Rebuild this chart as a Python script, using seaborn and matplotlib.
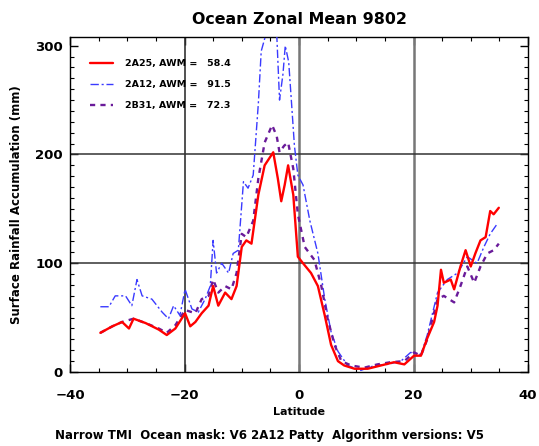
import matplotlib
matplotlib.use("Agg")
import matplotlib.pyplot as plt
import seaborn as sns
from matplotlib.ticker import MultipleLocator

sns.set_theme(style="white")
plt.rcParams['font.family'] = ['DejaVu Sans']
plt.rcParams['font.weight'] = 'bold'
plt.rcParams['text.color'] = 'black'
plt.rcParams['axes.labelcolor'] = 'black'
plt.rcParams['xtick.color'] = 'black'
plt.rcParams['ytick.color'] = 'black'

title = "Ocean Zonal Mean 9802"
xlabel = "Latitude"
ylabel = "Surface Rainfall Accumulation (mm)"
footer = "Narrow TMI  Ocean mask: V6 2A12 Patty  Algorithm versions: V5"
labels = ["2A25, AWM =   58.4", "2A12, AWM =   91.5", "2B31, AWM =   72.3"]

lat_2a25 = [-34.7, -32.6, -30.9, -29.7, -28.9, -26.8, -24.5, -23.1, -21.6, -19.9, -19.0, -18.1, -17.0,
            -15.8, -15.0, -14.1, -12.9, -11.8, -10.9, -10.0, -9.2, -8.3, -7.1, -6.0, -4.5, -3.7, -3.1,
            -2.5, -1.9, -1.0, -0.2, 0.7, 2.1, 3.3, 4.5, 5.6, 6.8, 7.9, 9.7, 12.0, 14.3, 16.6, 18.4,
            20.1, 21.3, 22.4, 23.6, 24.2, 24.8, 25.3, 26.5, 27.1, 28.2, 29.1, 30.0, 30.8, 31.7, 32.6,
            33.4, 34.0, 34.9]
val_2a25 = [36, 42, 46, 40, 49, 45, 39, 34, 40, 54, 42, 46, 54,
            61, 79, 61, 73, 67, 79, 115, 121, 118, 163, 190, 202, 178, 157,
            172, 190, 163, 106, 100, 91, 79, 52, 25, 10, 6, 3, 3, 6, 9, 7,
            15, 15, 31, 46, 61, 94, 82, 85, 76, 97, 112, 97, 109, 121, 124,
            148, 145, 151]

lat_2a12 = [-34.7, -33.2, -32.1, -30.3, -29.2, -28.3, -27.4, -25.7, -23.9, -22.8, -21.9, -20.8, -19.9,
            -18.7, -17.6, -16.4, -15.5, -15.0, -14.4, -13.5, -12.3, -11.5, -10.6, -9.7, -8.9, -8.0,
            -7.1, -6.6, -5.7, -4.8, -3.9, -3.4, -2.8, -2.4, -1.8, -1.3, -0.8, -0.2, 0.7, 1.9, 3.3,
            4.5, 5.6, 6.8, 8.5, 10.8, 13.2, 15.5, 17.8, 19.5, 21.3, 22.4, 24.2, 25.9, 27.7, 29.4,
            31.1, 32.3, 33.4, 34.6]
val_2a12 = [60, 60, 70, 70, 61, 85, 70, 67, 55, 49, 61, 52, 76,
            58, 55, 67, 79, 121, 91, 100, 91, 109, 112, 175, 169, 181,
            247, 295, 312, 315, 312, 250, 274, 300, 285, 247, 208, 181, 172, 139, 109,
            67, 37, 19, 6, 1.5, 6, 7, 10, 18, 16, 34, 73, 85, 91, 106,
            100, 115, 127, 136]

lat_2b31 = [-34.7, -32.6, -30.9, -28.9, -26.8, -24.5, -23.1, -21.6, -19.9, -18.1, -17.0, -15.8, -15.0,
            -14.1, -12.9, -11.8, -10.9, -10.0, -9.2, -8.0, -7.1, -6.0, -4.7, -3.9, -3.4, -2.6, -1.9,
            -1.0, -0.2, 1.0, 2.7, 3.9, 5.0, 6.2, 7.4, 9.1, 11.4, 13.7, 16.0, 18.4, 20.1, 21.3, 22.4,
            24.2, 25.3, 27.1, 28.2, 29.4, 30.6, 31.7, 32.9, 34.0, 34.9]
val_2b31 = [36, 42, 46, 49, 45, 40, 36, 43, 57, 54, 67, 70, 85,
            73, 79, 76, 91, 127, 124, 139, 178, 211, 227, 217, 202, 208, 211,
            187, 145, 115, 103, 79, 49, 25, 10, 6, 4, 7, 9, 10, 18, 15, 30,
            67, 70, 64, 79, 97, 82, 97, 109, 112, 118]

fig = plt.figure(figsize=(5.39, 4.46), dpi=100)
# axes: left x=70, right x=528, top y=37, bottom y=372
ax = fig.add_axes([70 / 539, (446 - 372) / 446, 458 / 539, 335 / 446])

ax.axvline(-20, color="#333333", lw=1.2, zorder=1)
for xv in (0, 20):
    ax.axvline(xv, color="#777777", lw=1.8, zorder=1)
for yv in (100, 200):
    ax.axhline(yv, color="#333333", lw=1.1, zorder=1)

sns.lineplot(x=lat_2a25, y=val_2a25, ax=ax, color="#ff0000", lw=1.7, sort=False,
             estimator=None, label=labels[0], zorder=4)
sns.lineplot(x=lat_2a12, y=val_2a12, ax=ax, color="#3a3aff", lw=1.0, sort=False,
             estimator=None, label=labels[1], zorder=3)
ax.lines[-1].set_dashes([6, 2, 1.5, 2])
sns.lineplot(x=lat_2b31, y=val_2b31, ax=ax, color="#6a1b9a", lw=1.7, sort=False,
             estimator=None, label=labels[2], zorder=3)
ax.lines[-1].set_dashes([2.2, 2.2])

ax.set_xlim(-40, 40)
ax.set_ylim(0, 308)
ax.set_xticks([-40, -20, 0, 20, 40])
ax.set_yticks([0, 100, 200, 300])
ax.xaxis.set_minor_locator(MultipleLocator(5))
ax.yaxis.set_minor_locator(MultipleLocator(10))
ax.tick_params(which="both", direction="in", top=True, right=True, bottom=True, left=True,
               color="black", labelcolor="black", labelsize=9.5)
ax.tick_params(axis="x", which="major", pad=12)
ax.tick_params(axis="y", which="major", pad=5)
ax.tick_params(which="major", length=6, width=1.0)
ax.tick_params(which="minor", length=3, width=0.8)
for s in ax.spines.values():
    s.set_color("black")
    s.set_linewidth(1.0)

ax.set_title(title, fontsize=11.4, pad=9, fontweight="bold", color="black")
ax.set_xlabel(xlabel, fontsize=8, labelpad=4, fontweight="bold", color="black")
ax.set_ylabel(ylabel, fontsize=8.5, labelpad=9, fontweight="bold", color="black")
fig.text(0.5, 1 - 436 / 446, footer, ha="center", va="center", fontsize=8.5,
         fontweight="bold", color="black")

leg = ax.legend(loc="upper left", frameon=False, handlelength=2.5,
                handletextpad=1.2, borderaxespad=0.0, labelspacing=1.25,
                bbox_to_anchor=(0.035, 0.945), prop={"weight": "bold", "size": 6.8})
for t in leg.get_texts():
    t.set_color("black")

fig.savefig("out.png", dpi=100)
